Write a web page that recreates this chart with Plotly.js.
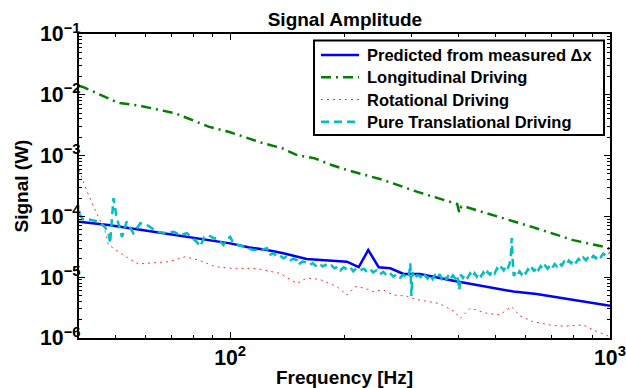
<!DOCTYPE html>
<html>
<head>
<meta charset="utf-8">
<script src="https://cdn.plot.ly/plotly-3.0.1.min.js"></script>
<style>html,body{margin:0;padding:0;background:#fff}#chart{width:626px;height:388px}</style>
</head>
<body>
<div id="chart"></div>
<script>
// Predicted from measured Δx
const predFreq = [40, 47.8, 58.6, 71.7, 87.7, 100, 111.7, 125, 138, 159, 203, 218, 231, 246, 264, 286, 316, 387, 557, 641, 1000];
const predVal  = [8.2e-5, 7.2e-5, 6.0e-5, 4.95e-5, 4.1e-5, 3.6e-5, 3.1e-5, 2.8e-5, 2.47e-5, 2.0e-5, 1.8e-5, 1.46e-5, 2.8e-5, 1.46e-5, 1.4e-5, 1.13e-5, 1.13e-5, 8.75e-6, 5.8e-6, 5.3e-6, 3.4e-6];

// Longitudinal Driving
const longFreq = [40, 40.8, 50.7, 58.6, 71.7, 79, 87.7, 99, 109.5, 121, 137, 150, 167, 185, 203, 253, 310, 379, 396, 401, 406, 420, 514, 629, 800, 979, 1000];
const longVal  = [1.4e-2, 1.36e-2, 7.4e-3, 6.5e-3, 4.96e-3, 3.85e-3, 3.0e-3, 2.47e-3, 2.0e-3, 1.63e-3, 1.32e-3, 1.02e-3, 9.0e-4, 7.0e-4, 5.8e-4, 3.97e-4, 2.55e-4, 1.74e-4, 1.6e-4, 1.15e-4, 1.45e-4, 1.41e-4, 9.7e-5, 6.6e-5, 4.07e-5, 3.09e-5, 2.9e-5];

// Rotational Driving
const rotFreq = [40, 41.5, 43.3, 45, 46.9, 47.8, 50.8, 54, 57.3, 62, 68.9, 76.1, 82.5, 91.3, 101, 114, 120, 135, 150, 159, 172, 191, 203, 213, 226, 238, 253, 269, 291, 306, 316, 355, 391, 403, 429, 474, 513, 550, 580, 626, 708, 768, 851, 905, 979, 1000];
const rotVal  = [5.8e-4, 3.1e-4, 1.64e-4, 9.9e-5, 5.6e-5, 3.4e-5, 2.6e-5, 2.04e-5, 1.65e-5, 1.7e-5, 1.8e-5, 2.17e-5, 1.92e-5, 1.49e-5, 1.4e-5, 1.4e-5, 1.35e-5, 1.16e-5, 7.9e-6, 9.7e-6, 9.2e-6, 7.0e-6, 5.1e-6, 7.0e-6, 6.6e-6, 5.8e-6, 6.2e-6, 5.1e-6, 4.9e-6, 4.4e-6, 4.2e-6, 3.7e-6, 2.7e-6, 2.1e-6, 3.1e-6, 2.55e-6, 2.4e-6, 3.3e-6, 2.3e-6, 1.86e-6, 1.6e-6, 1.57e-6, 1.64e-6, 1.35e-6, 1.1e-6, 1.05e-6];

// Pure Translational Driving
const transFreq = [40, 41, 42.4, 44, 45, 46.5, 47.8, 48.3, 49.3, 50.2, 51.9, 53.4, 55.6, 58, 61, 64, 68, 71, 73.9, 76.9, 79, 81.7, 83.4, 85.5, 87.7, 90.4, 93, 96, 98, 100, 102, 106, 110.6, 113, 115, 120,
  125, 127, 130, 132.7, 135, 138, 141, 144, 147, 150, 151, 155, 159, 162, 165, 168, 172, 175, 178, 181, 185, 188, 192, 195, 199, 203, 207, 211, 215, 220, 225, 229, 234, 238, 243, 248, 253, 258, 263, 269, 274, 280, 286, 292, 296, 298, 300, 302, 306, 311,
  316, 321, 326, 331, 336, 341, 346, 351, 356, 361, 366, 371, 376, 381, 386, 391, 396, 401, 405, 410, 416, 422, 428, 434, 440, 446, 452, 458, 464, 470, 476, 483, 490, 497, 504, 511, 518, 525, 532, 538, 544, 548, 551, 554, 558, 564, 571, 578, 585, 592, 600, 608, 616, 624, 632, 640, 648, 657, 666, 675, 685, 695, 705, 715, 725, 735, 746, 757, 768, 779, 790, 802, 814, 826, 838, 851, 864, 877, 890, 904, 918, 932, 946, 960, 975, 990, 1000];
const transVal  = [1.12e-4, 9.0e-5, 8.9e-5, 8.5e-5, 8.2e-5, 7.0e-5, 5.6e-5, 3.6e-5, 2.0e-4, 1.0e-4, 4.6e-5, 8.2e-5, 5.3e-5, 7.7e-5, 7.0e-5, 5.6e-5, 5.3e-5, 5.6e-5, 4.9e-5, 5.3e-5, 4.6e-5, 3.8e-5, 3.2e-5, 4.6e-5, 4.9e-5, 4.4e-5, 4.2e-5, 3.4e-5, 4.2e-5, 4.6e-5, 3.6e-5, 3.3e-5, 3.0e-5, 2.9e-5, 2.8e-5, 2.8e-5,
  3.0e-5, 2.3e-5, 2.5e-5, 2.2e-5, 2.3e-5, 2.05e-5, 2.2e-5, 1.9e-5, 2.0e-5, 1.9e-5, 1.6e-5, 1.8e-5, 1.75e-5, 1.6e-5, 1.7e-5, 1.55e-5, 1.7e-5, 1.5e-5, 1.6e-5, 1.45e-5, 1.55e-5, 1.4e-5, 1.5e-5, 1.3e-5, 1.45e-5, 1.35e-5, 1.45e-5, 1.25e-5, 1.4e-5, 1.3e-5, 1.38e-5, 1.22e-5, 1.35e-5, 1.2e-5, 1.3e-5, 1.12e-5, 1.22e-5, 1.08e-5, 1.18e-5, 1.02e-5, 1.12e-5, 9.8e-6, 1.1e-5, 9.6e-6, 1.1e-5, 1.7e-5, 4.9e-6, 1.2e-5, 9.5e-6, 1.08e-5,
  1.05e-5, 9.2e-6, 1.08e-5, 9.5e-6, 1.1e-5, 9.3e-6, 1.08e-5, 9.6e-6, 1.12e-5, 9.4e-6, 1.06e-5, 9.2e-6, 1.1e-5, 9.5e-6, 1.07e-5, 9.6e-6, 1.08e-5, 6.2e-6, 1.1e-5, 9.7e-6, 1.12e-5, 9.8e-6, 1.15e-5, 1.0e-5, 1.16e-5, 1.02e-5, 1.18e-5, 1.04e-5, 1.2e-5, 1.05e-5, 1.22e-5, 1.1e-5, 1.28e-5, 1.15e-5, 1.4e-5, 1.25e-5, 1.45e-5, 1.3e-5, 1.55e-5, 1.4e-5, 1.65e-5, 2.2e-5, 4.4e-5, 2.0e-5, 1.05e-5, 1.2e-5, 1.08e-5, 1.25e-5, 1.12e-5, 1.3e-5, 1.16e-5, 1.35e-5, 1.2e-5, 1.4e-5, 1.25e-5, 1.5e-5, 1.32e-5, 1.52e-5, 1.35e-5, 1.55e-5, 1.38e-5, 1.58e-5, 1.42e-5, 1.65e-5, 1.5e-5, 1.72e-5, 1.55e-5, 1.8e-5, 1.62e-5, 1.88e-5, 1.7e-5, 1.95e-5, 1.75e-5, 2.0e-5, 1.82e-5, 2.1e-5, 1.9e-5, 2.15e-5, 1.98e-5, 2.25e-5, 2.05e-5, 2.35e-5, 2.15e-5, 2.45e-5, 2.25e-5, 2.55e-5, 2.45e-5];

const seriesNames = ['Predicted from measured Δx', 'Longitudinal Driving', 'Rotational Driving', 'Pure Translational Driving'];

const FONT = '"Liberation Sans", Arial, Helvetica, sans-serif';

const styles = [
  {color: '#0000ff', width: 2.5, dash: 'solid'},
  {color: '#007f00', width: 2.5, dash: '10px,5px,2px,5px'},
  {color: '#ff3030', width: 1, dash: '2px,4px'},
  {color: '#00bfbf', width: 2.5, dash: '8px,5px'}
];

const xs = [predFreq, longFreq, rotFreq, transFreq];
const ys = [predVal, longVal, rotVal, transVal];

const traces = seriesNames.map((n, i) => ({
  x: xs[i], y: ys[i], name: n, mode: 'lines', line: styles[i], showlegend: false
}));

// Legend drawn as a boxed key in paper coordinates
const L = {x0: 0.4426, x1: 0.9887, y0: 0.6678, y1: 0.9786, sx0: 0.4557, sx1: 0.5273, tx: 0.5386,
           rows: [0.9309, 0.8576, 0.7845, 0.7115]};
const shapes = [{type: 'rect', xref: 'paper', yref: 'paper', x0: L.x0, x1: L.x1, y0: L.y0, y1: L.y1,
                 line: {color: '#000', width: 2}, fillcolor: '#fff', layer: 'above'}];
const annotations = [];
seriesNames.forEach((n, i) => {
  shapes.push({type: 'line', xref: 'paper', yref: 'paper', x0: L.sx0, x1: L.sx1, y0: L.rows[i], y1: L.rows[i],
               line: styles[i], layer: 'above'});
  annotations.push({xref: 'paper', yref: 'paper', x: L.tx, y: L.rows[i], xanchor: 'left', yanchor: 'middle',
                    text: n, showarrow: false, font: {family: FONT, size: 16.5, weight: 'bold', color: '#000'}});
});

const axisCommon = {
  type: 'log', showgrid: false, zeroline: false,
  showline: true, linecolor: '#000', linewidth: 2, mirror: 'allticks',
  ticks: 'inside', ticklen: 6, tickwidth: 1, tickcolor: '#000',
  dtick: 1, exponentformat: 'power',
  tickfont: {family: FONT, size: 17, color: '#000', weight: 'bold'},
  minor: {ticks: 'inside', ticklen: 3, tickwidth: 1, tickcolor: '#000', showgrid: false}
};

const layout = {
  width: 626, height: 388,
  margin: {l: 79, r: 16, t: 34, b: 50},
  paper_bgcolor: '#fff', plot_bgcolor: '#fff',
  font: {family: FONT, color: '#000'},
  showlegend: false,
  title: {text: 'Signal Amplitude', font: {family: FONT, size: 19, weight: 'bold', color: '#000'},
          x: 0.551, xanchor: 'center', y: 1 - 19/388, yanchor: 'middle'},
  xaxis: Object.assign({}, axisCommon, {
    range: [Math.log10(40), 3],
    title: {text: 'Frequency [Hz]', font: {family: FONT, size: 19, weight: 'bold', color: '#000'}, standoff: 8}
  }),
  yaxis: Object.assign({}, axisCommon, {
    range: [-6, -1], ticklabelstandoff: -7,
    title: {text: 'Signal (W)', font: {family: FONT, size: 19, weight: 'bold', color: '#000'}, standoff: 6}
  }),
  shapes: shapes,
  annotations: annotations
};

Plotly.newPlot('chart', traces, layout, {displayModeBar: false, staticPlot: true});
</script>
</body>
</html>
